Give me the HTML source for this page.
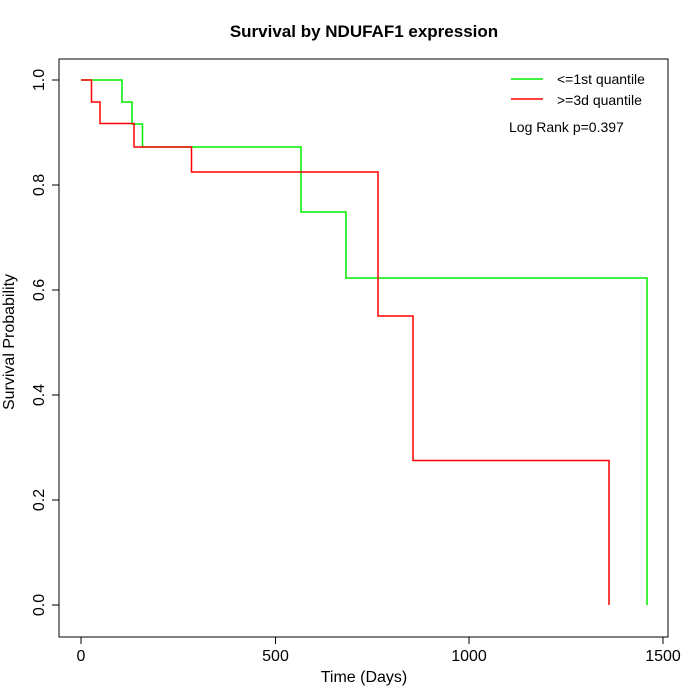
<!DOCTYPE html>
<html><head><meta charset="utf-8"><style>body{margin:0;background:#fff}svg{display:block}text{font-family:"Liberation Sans",sans-serif}</style></head><body>
<svg width="700" height="700" viewBox="0 0 700 700">
<rect width="700" height="700" fill="#fff"/>
<text x="364" y="37" font-size="17" font-weight="bold" text-anchor="middle">Survival by NDUFAF1 expression</text>
<rect x="59" y="59" width="609" height="578" fill="none" stroke="#000" stroke-width="1"/>
<g stroke="#000" stroke-width="1">
<line x1="81" y1="637" x2="663" y2="637"/>
<line x1="81" y1="637" x2="81" y2="644"/><line x1="275.5" y1="637" x2="275.5" y2="644"/><line x1="469" y1="637" x2="469" y2="644"/><line x1="663" y1="637" x2="663" y2="644"/>
<line x1="59" y1="80" x2="59" y2="605"/>
<line x1="52" y1="80" x2="59" y2="80"/><line x1="52" y1="185" x2="59" y2="185"/><line x1="52" y1="290" x2="59" y2="290"/><line x1="52" y1="395" x2="59" y2="395"/><line x1="52" y1="500" x2="59" y2="500"/><line x1="52" y1="605" x2="59" y2="605"/>
</g>
<g font-size="16" text-anchor="middle">
<text x="81" y="661">0</text><text x="275.5" y="661">500</text><text x="469" y="661">1000</text><text x="663" y="661">1500</text>
<text x="364" y="682">Time (Days)</text>
</g>
<g font-size="16" text-anchor="middle">
<text transform="translate(44,80) rotate(-90)">1.0</text>
<text transform="translate(44,185) rotate(-90)">0.8</text>
<text transform="translate(44,290) rotate(-90)">0.6</text>
<text transform="translate(44,395) rotate(-90)">0.4</text>
<text transform="translate(44,500) rotate(-90)">0.2</text>
<text transform="translate(44,605) rotate(-90)">0.0</text>
<text transform="translate(14,342) rotate(-90)">Survival Probability</text>
</g>
<polyline fill="none" stroke="#00ee00" stroke-width="1.5" points="81,80 122,80 122,102 132,102 132,124 142.5,124 142.5,147 301,147 301,212 346,212 346,278 647,278 647,605"/>
<polyline fill="none" stroke="#ff0000" stroke-width="1.5" points="81,80 91.5,80 91.5,102 100,102 100,123.5 134,123.5 134,147 191.5,147 191.5,172 378,172 378,316 413,316 413,460.5 609,460.5 609,605"/>
<line x1="511" y1="79" x2="543" y2="79" stroke="#00ee00" stroke-width="1.5"/>
<line x1="511" y1="99" x2="543" y2="99" stroke="#ff0000" stroke-width="1.5"/>
<g font-size="14">
<text x="557" y="84">&lt;=1st quantile</text>
<text x="557" y="105">&gt;=3d quantile</text>
<text x="509" y="132">Log Rank p=0.397</text>
</g>
</svg>
</body></html>
